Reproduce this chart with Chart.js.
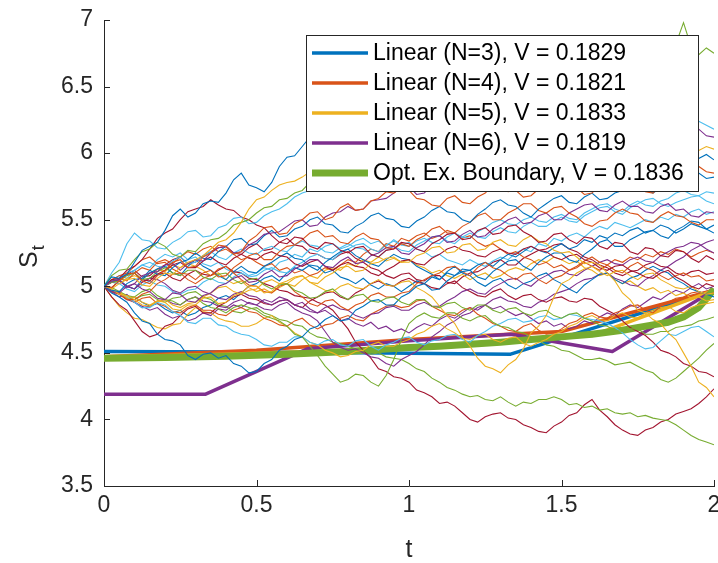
<!DOCTYPE html>
<html><head><meta charset="utf-8">
<script src="https://cdn.jsdelivr.net/npm/chart.js@4"></script>
<style>html,body{margin:0;padding:0;background:#fff}</style>
</head><body>
<canvas id="c" width="718" height="563"></canvas>
<script>
// ---- data ----
const tGrid = [0,0.025,0.05,0.075,0.1,0.125,0.15,0.175,0.2,0.225,
  0.25,0.275,0.3,0.325,0.35,0.375,0.4,0.425,0.45,0.475,
  0.5,0.525,0.55,0.575,0.6,0.625,0.65,0.675,0.7,0.725,
  0.75,0.775,0.8,0.825,0.85,0.875,0.9,0.925,0.95,0.975,
  1.0,1.025,1.05,1.075,1.1,1.125,1.15,1.175,1.2,1.225,
  1.25,1.275,1.3,1.325,1.35,1.375,1.4,1.425,1.45,1.475,
  1.5,1.525,1.55,1.575,1.6,1.625,1.65,1.675,1.7,1.725,
  1.75,1.775,1.8,1.825,1.85,1.875,1.9,1.925,1.95,1.975,2.0];

const pathB1 = [5.00,5.07,5.06,5.09,5.18,5.27,5.30,5.33,5.42,5.53, 5.58,5.52,5.55,5.62,5.64,5.63,5.70,5.80,5.85,5.76, 5.74,5.71,5.78,5.90,5.97,5.98,6.05,6.12,6.15,6.16, 6.22,6.28,6.30,6.24,6.25,6.33,6.38,6.36,6.32,6.26, 6.28,6.33,6.35,6.34,6.40,6.38,6.30,6.24,6.22,6.21, 6.28,6.26,6.18,6.16,6.10,6.09,6.15,6.13,6.05,6.06, 6.00,6.00,6.08,6.13,6.12,6.05,6.02,6.00,5.95,5.94, 6.00,5.99,5.92,5.91,5.98,5.97,5.90,5.89,5.96,5.99, 5.95];
const pathO1 = [5.00,4.99,5.04,5.09,5.10,5.04,5.02,5.08,5.12,5.18, 5.20,5.14,5.15,5.22,5.25,5.31,5.30,5.24,5.26,5.34, 5.38,5.44,5.45,5.39,5.40,5.47,5.50,5.55,5.56,5.50, 5.52,5.59,5.62,5.57,5.58,5.64,5.66,5.71,5.70,5.74, 5.72,5.66,5.65,5.61,5.60,5.66,5.68,5.63,5.62,5.67, 5.70,5.76,5.78,5.71,5.72,5.67,5.68,5.73,5.75,5.79, 5.80,5.75,5.74,5.69,5.70,5.76,5.78,5.83,5.82,5.77, 5.75,5.71,5.70,5.76,5.78,5.83,5.84,5.88,5.90,5.86, 5.85];
const pathY1 = [5.00,4.98,5.02,5.05,5.06,5.01,5.00,5.06,5.10,5.09, 5.14,5.18,5.20,5.23,5.28,5.33,5.35,5.40,5.48,5.58, 5.65,5.67,5.72,5.76,5.78,5.79,5.82,5.86,5.85,5.90, 5.92,5.87,5.88,5.93,5.95,5.99,6.00,5.95,5.96,6.01, 6.02,5.97,5.98,6.03,6.05,6.09,6.10,6.05,6.04,6.09, 6.08,6.02,6.00,5.96,5.95,6.00,6.02,6.06,6.06,6.01, 6.00,5.95,5.96,6.02,6.04,5.99,5.98,6.03,6.02,6.06, 6.08,6.03,6.04,5.99,6.00,6.05,6.06,6.01,6.02,6.05, 6.03];
const pathP1 = [5.00,5.04,5.05,4.99,5.02,5.08,5.10,5.11,5.16,5.17, 5.12,5.17,5.20,5.19,5.25,5.29,5.30,5.25,5.26,5.31, 5.34,5.39,5.40,5.41,5.45,5.49,5.50,5.45,5.46,5.52, 5.55,5.56,5.60,5.57,5.58,5.64,5.65,5.66,5.70,5.74, 5.75,5.69,5.70,5.76,5.78,5.83,5.85,5.79,5.80,5.86, 5.88,5.93,5.92,5.87,5.86,5.92,5.95,5.99,6.00,5.95, 5.96,6.01,6.02,5.97,5.98,6.04,6.05,5.99,6.00,6.05, 6.06,6.11,6.10,6.05,6.04,6.11,6.15,6.20,6.18,6.13, 6.12];
const pathG1 = [5.00,5.08,5.12,5.13,5.20,5.26,5.28,5.33,5.30,5.24, 5.22,5.27,5.26,5.32,5.35,5.36,5.40,5.46,5.48,5.50, 5.55,5.59,5.60,5.65,5.66,5.70,5.72,5.78,5.80,5.82, 5.86,5.91,5.92,5.94,5.98,6.03,6.04,6.08,6.10,6.06, 6.05,6.10,6.12,6.17,6.18,6.14,6.15,6.20,6.22,6.26, 6.28,6.23,6.24,6.30,6.32,6.35,6.36,6.31,6.30,6.36, 6.38,6.41,6.42,6.46,6.48,6.44,6.45,6.50,6.52,6.56, 6.58,6.63,6.62,6.68,6.70,6.82,6.98,6.80,6.74,6.79, 6.75];
const pathL1 = [5.00,5.10,5.18,5.32,5.40,5.35,5.34,5.29,5.28,5.33, 5.36,5.41,5.42,5.37,5.38,5.44,5.46,5.51,5.52,5.47, 5.48,5.53,5.56,5.58,5.62,5.67,5.70,5.72,5.76,5.80, 5.82,5.77,5.78,5.83,5.86,5.90,5.92,5.87,5.88,5.93, 5.95,6.00,6.00,5.95,5.96,6.01,6.04,6.08,6.10,6.05, 6.06,6.10,6.12,6.16,6.18,6.13,6.14,6.19,6.20,6.16, 6.16,6.21,6.22,6.25,6.26,6.21,6.20,6.26,6.28,6.23, 6.24,6.29,6.30,6.34,6.35,6.31,6.30,6.26,6.24,6.21, 6.18];
const pathR1 = [5.00,5.05,5.06,5.12,5.15,5.20,5.28,5.36,5.40,5.43, 5.50,5.56,5.58,5.60,5.65,5.61,5.58,5.57,5.52,5.50, 5.46,5.44,5.38,5.33,5.32,5.37,5.36,5.30,5.28,5.33, 5.32,5.27,5.25,5.29,5.30,5.24,5.22,5.27,5.28,5.33, 5.32,5.28,5.26,5.32,5.35,5.39,5.40,5.35,5.36,5.42, 5.44,5.39,5.40,5.45,5.46,5.41,5.38,5.33,5.34,5.39, 5.40,5.35,5.32,5.37,5.36,5.30,5.28,5.33,5.32,5.26, 5.24,5.29,5.28,5.23,5.22,5.27,5.26,5.21,5.18,5.23, 5.20];

const pathB2 = [5.00,4.97,4.96,5.02,5.05,5.06,5.12,5.09,5.08,5.14, 5.18,5.20,5.25,5.21,5.20,5.26,5.30,5.35,5.36,5.31, 5.32,5.38,5.42,5.37,5.38,5.43,5.45,5.50,5.52,5.47, 5.46,5.41,5.40,5.45,5.48,5.53,5.55,5.51,5.50,5.45, 5.44,5.49,5.52,5.57,5.60,5.56,5.55,5.50,5.48,5.54, 5.58,5.63,5.65,5.61,5.60,5.55,5.52,5.58,5.62,5.66, 5.68,5.63,5.62,5.67,5.70,5.65,5.66,5.70,5.72,5.76, 5.78,5.73,5.70,5.74,5.76,5.79,5.80,5.84,5.85,5.81, 5.82];
const pathO2 = [5.00,5.05,5.08,5.10,5.15,5.20,5.22,5.17,5.18,5.13, 5.10,5.09,5.05,5.10,5.12,5.07,5.08,5.14,5.18,5.23, 5.25,5.20,5.20,5.26,5.30,5.31,5.35,5.40,5.42,5.37, 5.38,5.33,5.32,5.37,5.40,5.36,5.35,5.29,5.28,5.32, 5.30,5.35,5.38,5.43,5.45,5.40,5.40,5.45,5.48,5.53, 5.55,5.50,5.50,5.55,5.58,5.62,5.62,5.57,5.55,5.59, 5.60,5.55,5.52,5.47,5.45,5.49,5.50,5.55,5.58,5.55, 5.54,5.49,5.48,5.53,5.56,5.53,5.52,5.48,5.46,5.50, 5.50];
const pathY2 = [5.00,4.98,4.94,4.93,4.90,4.86,4.85,4.89,4.88,4.83, 4.82,4.86,4.86,4.91,4.92,4.87,4.88,4.93,4.95,5.00, 5.00,4.95,4.96,5.02,5.04,5.07,5.08,5.03,5.02,5.07, 5.10,5.14,5.15,5.11,5.12,5.17,5.18,5.21,5.22,5.18, 5.18,5.23,5.25,5.29,5.30,5.25,5.26,5.31,5.32,5.27, 5.28,5.33,5.35,5.31,5.30,5.35,5.38,5.34,5.32,5.27, 5.25,5.26,5.22,5.17,5.18,5.16,5.10,5.04,4.95,4.90, 4.82,4.80,4.75,4.72,4.65,4.60,4.50,4.40,4.28,4.24, 4.17];
const pathP2 = [5.00,4.96,4.95,5.00,5.02,4.98,4.96,4.91,4.90,4.95, 4.94,4.89,4.88,4.93,4.95,5.00,5.02,5.06,5.08,5.03, 5.04,5.09,5.12,5.07,5.08,5.13,5.16,5.20,5.20,5.15, 5.14,5.19,5.22,5.17,5.18,5.23,5.25,5.29,5.30,5.25, 5.24,5.29,5.32,5.37,5.38,5.33,5.34,5.39,5.42,5.37, 5.38,5.43,5.46,5.50,5.52,5.47,5.48,5.53,5.55,5.50, 5.50,5.55,5.58,5.61,5.62,5.57,5.56,5.61,5.64,5.60, 5.60,5.56,5.55,5.60,5.62,5.57,5.58,5.53,5.52,5.56, 5.55];
const pathG2 = [5.00,5.03,5.04,5.08,5.10,5.05,5.06,5.11,5.14,5.10, 5.08,5.12,5.12,5.07,5.05,5.09,5.10,5.05,5.02,5.05, 5.06,5.01,4.98,5.01,5.02,4.97,4.95,4.91,4.92,4.96, 4.98,4.93,4.90,4.93,4.94,4.89,4.88,4.91,4.92,4.88, 4.86,4.90,4.90,4.85,4.84,4.87,4.88,4.84,4.82,4.86, 4.86,4.82,4.80,4.83,4.84,4.80,4.78,4.81,4.82,4.78, 4.76,4.79,4.80,4.76,4.74,4.71,4.70,4.67,4.66,4.68, 4.68,4.64,4.64,4.66,4.66,4.69,4.70,4.71,4.74,4.75, 4.77];
const pathL2 = [5.00,5.04,5.06,5.10,5.12,5.16,5.18,5.15,5.14,5.19, 5.22,5.17,5.18,5.23,5.26,5.22,5.20,5.25,5.28,5.25, 5.24,5.28,5.30,5.27,5.26,5.31,5.34,5.31,5.30,5.26, 5.25,5.29,5.32,5.29,5.28,5.24,5.22,5.27,5.30,5.27, 5.26,5.31,5.34,5.37,5.38,5.34,5.32,5.37,5.40,5.37, 5.36,5.41,5.44,5.41,5.40,5.45,5.48,5.45,5.45,5.49, 5.52,5.49,5.48,5.53,5.56,5.59,5.60,5.56,5.54,5.59, 5.62,5.65,5.66,5.62,5.60,5.63,5.65,5.67,5.68,5.64, 5.62];
const pathR2 = [5.00,5.04,5.05,5.09,5.10,5.05,5.04,5.09,5.12,5.16, 5.18,5.14,5.14,5.19,5.22,5.18,5.16,5.21,5.24,5.21, 5.20,5.24,5.26,5.23,5.22,5.17,5.15,5.18,5.20,5.15, 5.12,5.16,5.18,5.15,5.14,5.10,5.08,5.12,5.15,5.19, 5.20,5.17,5.16,5.21,5.24,5.28,5.30,5.27,5.26,5.23, 5.22,5.26,5.28,5.25,5.24,5.28,5.30,5.27,5.26,5.22, 5.20,5.23,5.24,5.20,5.18,5.14,5.12,5.15,5.16,5.12, 5.10,5.07,5.06,5.10,5.12,5.07,5.04,5.00,4.98,5.02, 5.00];

const pathB3 = [5.00,4.95,4.92,4.88,4.80,4.74,4.72,4.64,4.60,4.59, 4.56,4.48,4.45,4.49,4.50,4.46,4.48,4.42,4.40,4.35, 4.36,4.42,4.45,4.52,4.55,4.60,4.62,4.68,4.70,4.75, 4.78,4.74,4.75,4.82,4.85,4.89,4.90,4.86,4.86,4.92, 4.95,5.00,5.02,4.97,4.98,5.04,5.08,5.11,5.12,5.07, 5.05,5.11,5.15,5.19,5.20,5.15,5.12,5.18,5.22,5.25, 5.25,5.20,5.18,5.24,5.28,5.33,5.35,5.30,5.30,5.35, 5.38,5.41,5.42,5.38,5.36,5.42,5.45,5.49,5.48,5.43, 5.40];
const pathO3 = [5.00,4.96,4.94,4.90,4.90,4.94,4.96,5.02,5.05,5.09, 5.10,5.05,5.02,5.06,5.08,5.13,5.15,5.10,5.05,5.01, 5.00,4.96,4.95,5.00,5.02,4.96,4.92,4.87,4.85,4.89, 4.90,4.85,4.82,4.86,4.88,4.93,4.95,4.92,4.92,4.95, 4.96,5.02,5.05,5.08,5.10,5.14,5.15,5.11,5.08,5.14, 5.18,5.14,5.12,5.08,5.05,5.09,5.10,5.05,5.02,5.06, 5.08,5.12,5.15,5.19,5.22,5.18,5.16,5.12,5.10,5.15, 5.18,5.14,5.12,5.08,5.05,5.08,5.10,5.07,5.08,5.04, 5.05];
const pathY3 = [5.00,4.97,4.96,4.91,4.92,4.88,4.86,4.89,4.90,4.86, 4.84,4.87,4.88,4.92,4.95,4.99,5.00,4.96,4.94,4.97, 4.98,5.03,5.05,5.02,5.02,5.06,5.08,5.03,5.00,4.97, 4.96,5.00,5.02,4.99,4.98,5.02,5.05,5.01,5.00,5.03, 5.04,4.99,4.96,4.92,4.85,4.78,4.72,4.62,4.55,4.46, 4.40,4.38,4.35,4.41,4.45,4.53,4.65,4.70,4.78,4.92, 5.02,5.05,5.10,5.13,5.15,5.11,5.08,5.11,5.12,5.08, 5.05,5.09,5.10,5.05,5.02,4.99,4.98,5.00,4.96,4.94, 4.95];
const pathP3 = [5.00,5.03,5.04,5.00,4.98,5.03,5.06,5.05,5.02,4.97, 4.95,4.99,5.00,4.96,4.94,4.91,4.90,4.94,4.96,4.93, 4.92,4.88,4.86,4.89,4.90,4.86,4.84,4.81,4.80,4.84, 4.86,4.83,4.82,4.78,4.76,4.79,4.80,4.84,4.85,4.82, 4.82,4.86,4.88,4.85,4.85,4.89,4.92,4.96,4.98,4.95, 4.94,4.99,5.02,5.05,5.06,5.02,5.00,5.05,5.08,5.11, 5.12,5.09,5.08,5.12,5.15,5.18,5.20,5.17,5.16,5.20, 5.22,5.19,5.18,5.23,5.26,5.29,5.30,5.33,5.32,5.28, 5.25];
const pathG3 = [5.00,4.99,4.96,4.93,4.92,4.96,4.98,4.93,4.90,4.89, 4.86,4.90,4.92,4.87,4.84,4.83,4.80,4.84,4.86,4.84, 4.82,4.78,4.76,4.74,4.70,4.64,4.62,4.55,4.48,4.40, 4.34,4.28,4.30,4.34,4.33,4.28,4.25,4.33,4.45,4.60, 4.72,4.77,4.80,4.77,4.76,4.80,4.80,4.76,4.74,4.77, 4.78,4.73,4.70,4.69,4.66,4.65,4.62,4.59,4.56,4.55, 4.52,4.51,4.48,4.45,4.45,4.46,4.44,4.41,4.42,4.43, 4.40,4.37,4.35,4.30,4.28,4.31,4.36,4.41,4.46,4.52, 4.57];
const pathL3 = [5.00,4.98,4.94,4.92,4.88,4.84,4.84,4.88,4.86,4.81, 4.78,4.73,4.72,4.76,4.76,4.71,4.70,4.66,4.64,4.63, 4.60,4.56,4.55,4.58,4.58,4.62,4.62,4.58,4.56,4.59, 4.60,4.56,4.55,4.59,4.60,4.55,4.52,4.56,4.58,4.61, 4.62,4.58,4.56,4.59,4.60,4.63,4.64,4.60,4.58,4.63, 4.66,4.70,4.72,4.75,4.76,4.73,4.74,4.77,4.78,4.75, 4.76,4.79,4.78,4.76,4.75,4.74,4.72,4.69,4.65,4.60, 4.56,4.53,4.54,4.59,4.64,4.63,4.66,4.69,4.70,4.66, 4.62];
const pathR3 = [5.00,4.92,4.86,4.82,4.74,4.66,4.62,4.64,4.70,4.72, 4.78,4.83,4.85,4.80,4.80,4.85,4.88,4.92,4.94,4.91, 4.90,4.87,4.86,4.89,4.90,4.86,4.84,4.89,4.92,4.95, 4.96,4.92,4.90,4.95,4.98,5.02,5.04,5.01,5.00,5.04, 5.06,5.03,5.02,4.99,4.98,5.02,5.04,4.99,4.96,4.93, 4.92,4.96,4.98,4.93,4.90,4.93,4.94,4.90,4.88,4.91, 4.92,4.89,4.88,4.91,4.90,4.85,4.82,4.79,4.74,4.69, 4.66,4.63,4.58,4.52,4.50,4.47,4.42,4.40,4.36,4.35, 4.32];

const pathB4 = [5.00,5.04,5.05,5.00,4.98,5.05,5.10,5.13,5.15,5.10, 5.08,5.15,5.20,5.15,5.12,5.08,5.05,5.11,5.15,5.11, 5.10,5.15,5.18,5.22,5.25,5.21,5.20,5.15,5.12,5.18, 5.22,5.26,5.28,5.23,5.20,5.17,5.15,5.20,5.24,5.21, 5.20,5.15,5.12,5.09,5.05,5.11,5.15,5.10,5.08,5.03, 5.00,5.04,5.06,5.01,4.98,5.02,5.04,5.08,5.10,5.05, 5.02,4.98,4.95,5.01,5.05,5.09,5.10,5.05,5.02,5.06, 5.08,5.12,5.15,5.12,5.10,5.05,5.02,4.98,4.96,4.94, 4.92];
const pathO4 = [5.00,4.96,4.95,4.91,4.88,4.91,4.92,4.87,4.85,4.81, 4.80,4.84,4.86,4.82,4.82,4.79,4.78,4.82,4.84,4.81, 4.80,4.76,4.74,4.71,4.70,4.74,4.76,4.71,4.68,4.71, 4.72,4.76,4.78,4.75,4.74,4.79,4.82,4.85,4.86,4.84, 4.85,4.89,4.90,4.85,4.82,4.79,4.78,4.82,4.84,4.79, 4.76,4.72,4.70,4.67,4.66,4.70,4.72,4.67,4.64,4.65, 4.68,4.72,4.74,4.78,4.80,4.77,4.76,4.80,4.82,4.85, 4.86,4.82,4.80,4.85,4.88,4.91,4.92,4.95,4.96,4.94, 4.95];
const pathY4 = [5.00,4.92,4.85,4.80,4.76,4.75,4.72,4.69,4.68,4.71, 4.72,4.79,4.84,4.81,4.80,4.76,4.74,4.73,4.70,4.70, 4.72,4.76,4.78,4.73,4.70,4.65,4.62,4.58,4.56,4.52, 4.50,4.47,4.48,4.51,4.52,4.56,4.58,4.55,4.55,4.58, 4.60,4.64,4.66,4.70,4.72,4.68,4.65,4.61,4.60,4.63, 4.64,4.60,4.58,4.61,4.62,4.57,4.55,4.58,4.60,4.64, 4.66,4.70,4.72,4.76,4.78,4.75,4.74,4.78,4.80,4.77, 4.76,4.80,4.82,4.84,4.85,4.81,4.80,4.84,4.86,4.87, 4.88];
const pathP4 = [5.00,4.96,4.94,4.90,4.88,4.84,4.85,4.89,4.90,4.87, 4.86,4.90,4.92,4.89,4.88,4.85,4.84,4.88,4.90,4.87, 4.86,4.83,4.82,4.86,4.88,4.83,4.80,4.78,4.74,4.66, 4.58,4.54,4.52,4.53,4.50,4.47,4.46,4.42,4.40,4.45, 4.48,4.51,4.56,4.62,4.66,4.71,4.74,4.78,4.80,4.84, 4.86,4.90,4.92,4.89,4.88,4.85,4.84,4.88,4.90,4.94, 4.96,4.98,5.02,5.05,5.06,5.09,5.10,5.06,5.04,5.01, 5.00,5.05,5.08,5.12,5.15,5.19,5.22,5.27,5.30,5.33, 5.35];
const pathG4 = [5.00,4.96,4.95,4.91,4.90,4.93,4.94,4.90,4.88,4.91, 4.92,4.95,4.96,4.92,4.90,4.86,4.85,4.81,4.80,4.83, 4.84,4.80,4.78,4.75,4.74,4.71,4.70,4.65,4.62,4.61, 4.58,4.57,4.55,4.53,4.52,4.49,4.50,4.47,4.46,4.45, 4.42,4.38,4.36,4.31,4.28,4.24,4.22,4.19,4.17,4.18, 4.15,4.14,4.17,4.13,4.10,4.13,4.12,4.15,4.15,4.17, 4.15,4.11,4.12,4.09,4.10,4.07,4.08,4.05,4.04,4.05, 4.02,4.03,4.01,4.00,3.99,3.96,3.92,3.88,3.85,3.83, 3.81];
const pathL4 = [5.00,5.03,5.02,4.98,4.96,5.01,5.04,5.01,5.00,4.96, 4.94,4.97,4.98,5.03,5.06,5.03,5.02,5.07,5.10,5.07, 5.08,5.12,5.14,5.11,5.10,5.15,5.18,5.22,5.24,5.21, 5.20,5.25,5.28,5.31,5.32,5.28,5.26,5.31,5.34,5.31, 5.30,5.34,5.36,5.33,5.32,5.37,5.40,5.37,5.36,5.41, 5.44,5.48,5.50,5.47,5.46,5.50,5.52,5.49,5.48,5.52, 5.54,5.51,5.50,5.55,5.58,5.61,5.62,5.58,5.56,5.61, 5.64,5.61,5.60,5.64,5.66,5.70,5.72,5.69,5.68,5.71, 5.70];
const pathR4 = [5.00,5.03,5.04,5.00,4.98,5.03,5.06,5.09,5.10,5.06, 5.04,5.09,5.12,5.09,5.08,5.12,5.15,5.11,5.10,5.06, 5.05,5.02,5.00,4.97,4.96,4.93,4.92,4.91,4.88,4.86, 4.82,4.75,4.68,4.58,4.52,4.46,4.38,4.36,4.32,4.31, 4.28,4.22,4.20,4.17,4.12,4.13,4.10,4.05,4.00,3.98, 4.02,4.04,4.05,4.01,4.00,3.96,3.94,3.91,3.90,3.95, 3.98,4.03,4.05,4.11,4.15,4.07,4.02,3.96,3.92,3.89, 3.88,3.92,3.94,3.98,4.00,4.04,4.06,4.08,4.12,4.17, 4.23];
const pathR5 = [5.00,4.99,5.04,5.09,5.12,5.07,5.08,5.13,5.16,5.20, 5.22,5.17,5.18,5.23,5.26,5.29,5.30,5.25,5.24,5.29, 5.32,5.27,5.28,5.33,5.36,5.31,5.30,5.25,5.24,5.21, 5.20,5.24,5.26,5.21,5.18,5.14,5.12,5.08,5.06,5.09, 5.10,5.05,5.04,5.08,5.08,5.03,5.02,5.07,5.10,5.11, 5.14,5.18,5.20,5.16,5.16,5.21,5.24,5.27,5.28,5.31, 5.32,5.28,5.26,5.22,5.20,5.16,5.14,5.10,5.08,5.11, 5.12,5.16,5.18,5.15,5.14,5.10,5.08,5.11,5.12,5.09, 5.10];

const pathB5 = [5.00,4.97,4.95,4.90,4.92,4.88,4.85,4.87,4.83,4.80, 4.82,4.78,4.80,4.84,4.86,4.91,4.93,4.90,4.95,5.00, 5.02,5.06,5.08,5.04,5.10,5.14,5.12,5.16,5.15,5.10, 5.12,5.07,5.05,5.02,5.06,5.01,4.98,5.02,5.00,4.96, 5.00,5.04,5.02,5.07,5.05,5.10,5.08,5.13,5.12,5.16, 5.18,5.15,5.20,5.24,5.22,5.26,5.30,5.27,5.25,5.29, 5.32,5.28,5.30,5.35,5.33,5.38,5.36,5.40,5.38,5.42, 5.44,5.40,5.42,5.46,5.44,5.40,5.43,5.47,5.45,5.43, 5.46];
const pathO5 = [5.00,5.03,5.06,5.04,5.10,5.14,5.12,5.18,5.20,5.17, 5.22,5.26,5.24,5.28,5.30,5.26,5.28,5.24,5.20,5.22, 5.18,5.15,5.17,5.12,5.14,5.10,5.12,5.08,5.10,5.14, 5.12,5.16,5.20,5.18,5.24,5.28,5.26,5.32,5.30,5.36, 5.34,5.38,5.40,5.36,5.38,5.42,5.40,5.36,5.38,5.33, 5.30,5.32,5.28,5.24,5.26,5.22,5.20,5.16,5.18,5.14, 5.16,5.12,5.14,5.18,5.15,5.12,5.16,5.20,5.18,5.22, 5.20,5.24,5.22,5.26,5.24,5.28,5.26,5.22,5.25,5.27, 5.25];
const pathY5 = [5.00,5.03,5.02,5.06,5.08,5.05,5.10,5.13,5.11,5.16, 5.14,5.17,5.15,5.12,5.08,5.10,5.05,5.02,5.04,4.99, 4.96,4.98,4.95,4.99,5.02,5.00,5.05,5.08,5.06,5.12, 5.14,5.12,5.17,5.15,5.20,5.18,5.22,5.19,5.21,5.18, 5.20,5.16,5.14,5.10,5.12,5.08,5.06,5.09,5.05,5.08, 5.10,5.06,5.08,5.12,5.14,5.12,5.17,5.20,5.18,5.22, 5.20,5.17,5.19,5.14,5.12,5.08,5.10,5.05,5.02,5.04, 5.00,4.97,4.99,4.95,4.97,4.93,4.95,4.91,4.92,4.89, 4.90];
const pathP5 = [5.00,4.96,4.92,4.94,4.88,4.85,4.82,4.84,4.79,4.76, 4.78,4.74,4.76,4.80,4.78,4.83,4.82,4.86,4.84,4.88, 4.86,4.90,4.88,4.92,4.90,4.86,4.88,4.83,4.80,4.82, 4.78,4.74,4.76,4.72,4.70,4.73,4.68,4.70,4.66,4.68, 4.65,4.69,4.72,4.70,4.75,4.78,4.76,4.80,4.84,4.82, 4.86,4.83,4.85,4.81,4.78,4.80,4.76,4.72,4.74,4.70, 4.72,4.68,4.70,4.74,4.72,4.77,4.80,4.78,4.83,4.86, 4.84,4.88,4.92,4.90,4.94,4.97,4.95,4.99,5.02,4.98, 5.00];
const pathL5 = [5.00,5.04,5.08,5.06,5.12,5.16,5.14,5.20,5.24,5.22, 5.25,5.20,5.22,5.17,5.15,5.18,5.13,5.10,5.12,5.08, 5.10,5.14,5.12,5.18,5.20,5.24,5.22,5.28,5.26,5.30, 5.32,5.28,5.30,5.34,5.36,5.32,5.34,5.30,5.35,5.31, 5.33,5.28,5.26,5.22,5.24,5.20,5.18,5.16,5.20,5.17, 5.15,5.19,5.22,5.20,5.25,5.28,5.26,5.32,5.30,5.36, 5.34,5.38,5.40,5.37,5.42,5.45,5.43,5.48,5.46,5.44, 5.47,5.50,5.48,5.52,5.50,5.54,5.52,5.56,5.58,5.54, 5.56];

// exercise boundaries
const n3T = [0, 0.6667, 1.3333, 2];
const n3V = [4.51, 4.505, 4.49, 4.97];
const n4T = [0, 0.5, 1, 1.5, 2];
const n4V = [4.47, 4.52, 4.60, 4.66, 4.97];
const n5T = [0, 0.4, 0.8, 1.2, 1.6, 2];
const n5V = [4.47, 4.49, 4.52, 4.57, 4.63, 4.97];
const n6T = [0, 0.3333, 0.6667, 1, 1.3333, 1.6667, 2];
const n6V = [4.19, 4.19, 4.53, 4.59, 4.64, 4.51, 4.97];
const optT = [0, 0.2, 0.4, 0.6, 0.8, 1.0, 1.1, 1.2, 1.3, 1.4, 1.5, 1.6, 1.7, 1.8, 1.85, 1.9, 1.95, 1.98, 2.0];
const optV = [4.46, 4.465, 4.475, 4.49, 4.51, 4.54, 4.55, 4.565, 4.58, 4.60, 4.62, 4.64, 4.67, 4.71, 4.73, 4.77, 4.84, 4.92, 4.98];

const legendLabels = ['Linear (N=3), V = 0.1829','Linear (N=4), V = 0.1821','Linear (N=5), V = 0.1833','Linear (N=6), V = 0.1819','Opt. Ex. Boundary, V = 0.1836'];
const xTicks = [0, 0.5, 1, 1.5, 2];
const yTicks = [3.5, 4, 4.5, 5, 5.5, 6, 6.5, 7];

// ---- styling ----
const C = {b:'#0072BD', o:'#D95319', y:'#EDB120', p:'#7E2F8E', g:'#77AC30', l:'#4DBEEE', r:'#A2142F'};
const paths = [
  [pathB1,C.b],[pathO1,C.o],[pathY1,C.y],[pathP1,C.p],[pathG1,C.g],[pathL1,C.l],[pathR1,C.r],
  [pathB2,C.b],[pathO2,C.o],[pathY2,C.y],[pathP2,C.p],[pathG2,C.g],[pathL2,C.l],[pathR2,C.r],
  [pathB3,C.b],[pathO3,C.o],[pathY3,C.y],[pathP3,C.p],[pathG3,C.g],[pathL3,C.l],[pathR3,C.r],
  [pathB4,C.b],[pathO4,C.o],[pathY4,C.y],[pathP4,C.p],[pathG4,C.g],[pathL4,C.l],[pathR4,C.r],
  [pathB5,C.b],[pathO5,C.o],[pathY5,C.y],[pathP5,C.p],[pathL5,C.l],[pathR5,C.r]
];
const toXY = (ts, vs) => ts.map((t,i)=>({x:t, y:vs[i]}));
const datasets = [];
paths.forEach(([arr,col],k)=>{
  datasets.push({label:'path'+k, data:toXY(tGrid,arr), borderColor:col, borderWidth:1.1,
    pointRadius:0, tension:0, order:0});
});
const bounds = [[n3T,n3V,C.b,3.5,5],[n4T,n4V,C.o,3.5,4],[n5T,n5V,C.y,3.5,3],[n6T,n6V,C.p,3.5,2],[optT,optV,C.g,7,1]];
bounds.forEach(([ts,vs,col,w,ord],k)=>{
  datasets.push({label:legendLabels[k], data:toXY(ts,vs), borderColor:col, borderWidth:w,
    pointRadius:0, tension:0, order:ord, borderCapStyle:'butt', borderJoinStyle:'round'});
});

const AX = '#262626';
const FONT = "'Liberation Sans', Arial, Helvetica, sans-serif";

const decor = {
  id:'decor',
  afterDraw(chart){
    const ctx = chart.ctx, ca = chart.chartArea;
    const xs = chart.scales.x, ys = chart.scales.y;
    ctx.save();
    ctx.strokeStyle = AX; ctx.lineWidth = 1;
    ctx.beginPath();
    yTicks.forEach(v=>{ const py = Math.round(ys.getPixelForValue(v))+0.5; ctx.moveTo(ca.left, py); ctx.lineTo(ca.left+6, py); });
    xTicks.forEach(v=>{ const px = Math.round(xs.getPixelForValue(v))+0.5; ctx.moveTo(px, ca.bottom); ctx.lineTo(px, ca.bottom-6); });
    ctx.stroke();
    // legend
    const lx = 306.5, ly = 35.5, lw = 392, lh = 156;
    ctx.fillStyle = '#fff'; ctx.fillRect(lx, ly, lw, lh);
    ctx.strokeStyle = AX; ctx.lineWidth = 1; ctx.strokeRect(lx, ly, lw, lh);
    ctx.font = '23px ' + FONT; ctx.textBaseline = 'middle'; ctx.textAlign = 'left';
    bounds.forEach(([ts,vs,col,w],k)=>{
      const cy = 53 + 30*k;
      ctx.strokeStyle = col; ctx.lineWidth = w;
      ctx.beginPath(); ctx.moveTo(312, cy); ctx.lineTo(368, cy); ctx.stroke();
      ctx.fillStyle = '#000'; ctx.fillText(legendLabels[k], 373, cy+1);
    });
    // axis titles
    ctx.fillStyle = AX;
    ctx.font = '25px ' + FONT; ctx.textAlign = 'center'; ctx.textBaseline = 'alphabetic';
    ctx.fillText('t', (ca.left+ca.right)/2, 557);
    ctx.save();
    ctx.translate(37, 268); ctx.rotate(-Math.PI/2);
    ctx.textAlign = 'left';
    ctx.font = '25px ' + FONT; ctx.fillText('S', 0, 0);
    const wS = ctx.measureText('S').width;
    ctx.font = '18px ' + FONT; ctx.fillText('t', wS + 1, 7);
    ctx.restore();
    ctx.restore();
  }
};

new Chart(document.getElementById('c'), {
  type:'line',
  data:{datasets},
  options:{
    responsive:false, animation:false, devicePixelRatio:1,
    layout:{padding:{left:0,right:4,top:20,bottom:0}},
    plugins:{legend:{display:false}, tooltip:{enabled:false}},
    scales:{
      x:{type:'linear', min:0, max:2,
        grid:{display:false, drawTicks:false},
        border:{display:true, color:AX, width:1},
        afterBuildTicks:s=>{ s.ticks = xTicks.map(v=>({value:v})); },
        ticks:{color:AX, font:{family:FONT, size:23}, padding:6, maxRotation:0, autoSkip:false,
          callback:v=>String(v)},
        afterFit:s=>{ s.height = 77; s.paddingLeft = 0; s.paddingRight = 0; }
      },
      y:{type:'linear', min:3.5, max:7,
        grid:{display:false, drawTicks:false},
        border:{display:true, color:AX, width:1},
        afterBuildTicks:s=>{ s.ticks = yTicks.map(v=>({value:v})); },
        ticks:{color:AX, font:{family:FONT, size:23}, padding:11, autoSkip:false,
          callback:v=>String(v)},
        afterFit:s=>{ s.width = 104; s.paddingTop = 0; s.paddingBottom = 0; }
      }
    }
  },
  plugins:[decor]
});
</script>
</body></html>
